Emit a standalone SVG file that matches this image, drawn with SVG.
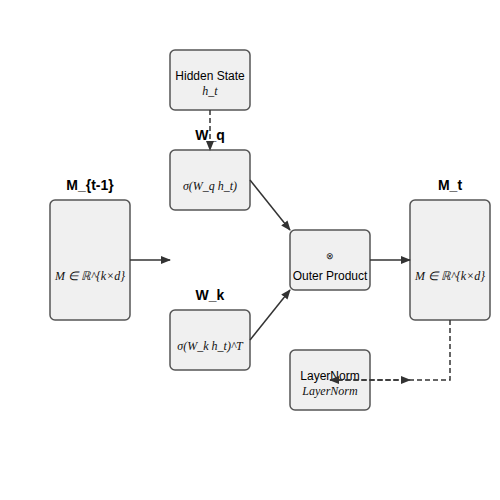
<svg xmlns="http://www.w3.org/2000/svg" width="500" height="500" viewBox="0 0 500 500">
<defs>
<marker id="ah" markerWidth="10" markerHeight="8" refX="9" refY="4" orient="auto" markerUnits="userSpaceOnUse">
<path d="M0,0 L10,4 L0,8 Z" fill="#333"/>
</marker>
<style>
.box{fill:#f0f0f0;stroke:#555;stroke-width:1.5}
.lbl{font-family:"Liberation Sans",Arial,sans-serif;font-size:12px;fill:#000;text-anchor:middle}
.math{font-family:"Liberation Serif","Times New Roman",serif;font-style:italic;font-size:12px;fill:#111;text-anchor:middle}
.ttl{font-family:"Liberation Sans",Arial,sans-serif;font-size:14px;font-weight:bold;fill:#000;text-anchor:middle}
.edge{fill:none;stroke:#333;stroke-width:1.5}
.dash{stroke-dasharray:5,3}
</style>
</defs>
<rect width="500" height="500" fill="#fff"/>
<g id="hidden">
<rect class="box" x="170" y="50" width="80" height="60" rx="5"/>
<text class="lbl" x="210" y="80">Hidden State</text>
<text class="math" x="210" y="95">h_t</text>
</g>
<g id="wq">
<text class="ttl" x="210" y="140">W_q</text>
<rect class="box" x="170" y="150" width="80" height="60" rx="5"/>
<text class="math" x="210" y="190">σ(W_q h_t)</text>
</g>
<g id="mprev">
<text class="ttl" x="90" y="190">M_{t-1}</text>
<rect class="box" x="50" y="200" width="80" height="120" rx="5"/>
<text class="math" x="90" y="280">M ∈ ℝ^{k×d}</text>
</g>
<g id="wk">
<text class="ttl" x="210" y="300">W_k</text>
<rect class="box" x="170" y="310" width="80" height="60" rx="5"/>
<text class="math" x="210" y="350">σ(W_k h_t)^T</text>
</g>
<g id="outer">
<rect class="box" x="290" y="230" width="80" height="60" rx="5"/>
<text class="math" x="330" y="259" style="font-style:normal;font-size:9px">⊗</text>
<text class="lbl" x="330" y="280">Outer Product</text>
</g>
<g id="mt">
<text class="ttl" x="450" y="190">M_t</text>
<rect class="box" x="410" y="200" width="80" height="120" rx="5"/>
<text class="math" x="450" y="280">M ∈ ℝ^{k×d}</text>
</g>
<g id="layernorm">
<rect class="box" x="290" y="350" width="80" height="60" rx="5"/>
<text class="lbl" x="330" y="380">LayerNorm</text>
<text class="math" x="330" y="395">LayerNorm</text>
</g>
<g id="connectors">
<path class="edge dash" d="M210,110 L210,150" marker-end="url(#ah)"/>
<path class="edge" d="M130,260 L170,260" marker-end="url(#ah)"/>
<path class="edge" d="M250,180 L290,230" marker-end="url(#ah)"/>
<path class="edge" d="M250,340 L290,290" marker-end="url(#ah)"/>
<path class="edge" d="M370,260 L410,260" marker-end="url(#ah)"/>
<path class="edge dash" d="M450,320 L450,380 L330,380" marker-end="url(#ah)"/>
<path class="edge dash" d="M330,380 L410,380" marker-end="url(#ah)"/>
</g>
</svg>
